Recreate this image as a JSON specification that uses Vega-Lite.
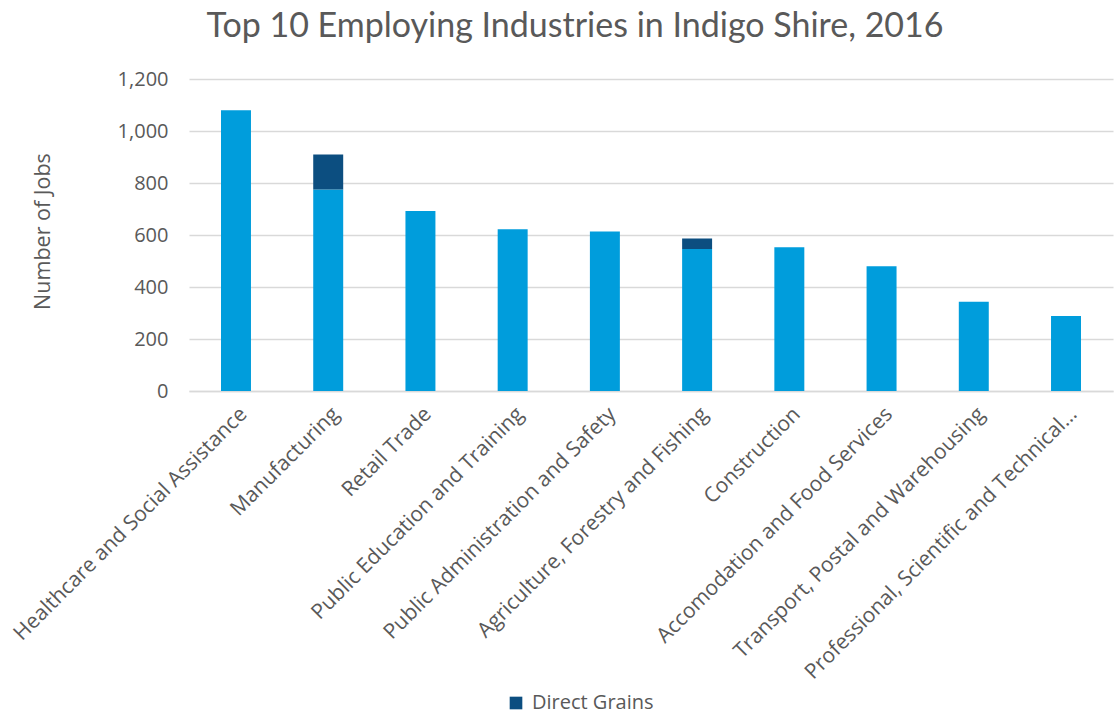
{
  "$schema": "https://vega.github.io/schema/vega-lite/v6.json",
  "autosize": {"type": "none"},
  "width": 924,
  "height": 312,
  "padding": {"left": 189, "top": 79, "right": 6, "bottom": 324},
  "background": "white",
  "title": {
    "text": "Top 10 Employing Industries in Indigo Shire, 2016",
    "font": "Lato",
    "fontSize": 34,
    "fontWeight": "normal",
    "color": "#595959",
    "anchor": "middle",
    "dx": -76,
    "offset": 25
  },
  "data": {
    "values": [
      {"industry": "Healthcare and Social Assistance", "series": "Other", "seg": 1, "jobs": 1080},
      {"industry": "Manufacturing", "series": "Other", "seg": 1, "jobs": 775},
      {"industry": "Manufacturing", "series": "Direct Grains", "seg": 2, "jobs": 135},
      {"industry": "Retail Trade", "series": "Other", "seg": 1, "jobs": 692},
      {"industry": "Public Education and Training", "series": "Other", "seg": 1, "jobs": 622},
      {"industry": "Public Administration and Safety", "series": "Other", "seg": 1, "jobs": 613},
      {"industry": "Agriculture, Forestry and Fishing", "series": "Other", "seg": 1, "jobs": 546},
      {"industry": "Agriculture, Forestry and Fishing", "series": "Direct Grains", "seg": 2, "jobs": 41},
      {"industry": "Construction", "series": "Other", "seg": 1, "jobs": 553},
      {"industry": "Accomodation and Food Services", "series": "Other", "seg": 1, "jobs": 480},
      {"industry": "Transport, Postal and Warehousing", "series": "Other", "seg": 1, "jobs": 343},
      {"industry": "Professional, Scientific and Technical Services", "series": "Other", "seg": 1, "jobs": 288}
    ]
  },
  "mark": {"type": "bar"},
  "encoding": {
    "x": {
      "field": "industry",
      "type": "nominal",
      "sort": null,
      "scale": {"paddingInner": 0.675, "paddingOuter": 0.347},
      "axis": {
        "title": null,
        "labelAngle": -45,
        "labelFont": "Open Sans",
        "labelFontSize": 21,
        "labelColor": "#595959",
        "labelPadding": 12,
        "labelLimit": 600,
        "labelExpr": "length(datum.label) > 40 ? substring(datum.label, 0, 38) + '…' : datum.label",
        "ticks": false,
        "domain": true,
        "domainColor": "#d9d9d9",
        "domainWidth": 1.5,
        "grid": false
      }
    },
    "y": {
      "field": "jobs",
      "type": "quantitative",
      "stack": "zero",
      "scale": {"domain": [0, 1200], "nice": false},
      "axis": {
        "title": "Number of Jobs",
        "titleFont": "Open Sans",
        "titleFontSize": 21.5,
        "titleFontWeight": "normal",
        "titleColor": "#595959",
        "titleAngle": -90,
        "titleAlign": "center",
        "titleBaseline": "middle",
        "titleX": -146,
        "titleY": 152,
        "values": [0, 200, 400, 600, 800, 1000, 1200],
        "format": ",.0f",
        "labelFont": "Open Sans",
        "labelFontSize": 20,
        "labelColor": "#595959",
        "labelPadding": 21,
        "ticks": false,
        "domain": false,
        "grid": true,
        "gridColor": "#d9d9d9",
        "gridWidth": 1.5
      }
    },
    "color": {
      "field": "series",
      "type": "nominal",
      "scale": {"domain": ["Other", "Direct Grains"], "range": ["#009DDC", "#0C4E80"]},
      "legend": {
        "values": ["Direct Grains"],
        "title": null,
        "orient": "none",
        "legendX": 317,
        "legendY": 614,
        "symbolType": "square",
        "symbolSize": 160,
        "symbolStrokeWidth": 0,
        "labelFont": "Open Sans",
        "labelFontSize": 20,
        "labelColor": "#595959",
        "labelOffset": 6
      }
    },
    "order": {"field": "seg", "type": "quantitative"}
  },
  "config": {"view": {"stroke": null}}
}
